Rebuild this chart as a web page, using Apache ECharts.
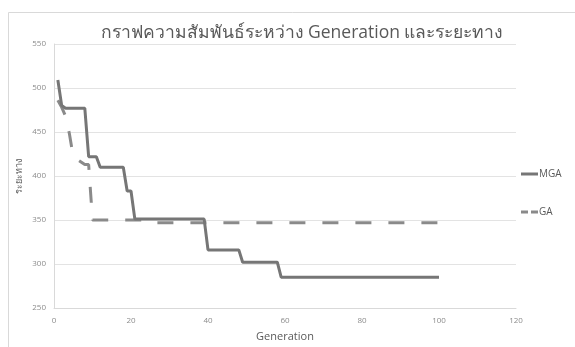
<!DOCTYPE html>
<html>
<head>
<meta charset="utf-8">
<script src="https://cdn.jsdelivr.net/npm/echarts@6/dist/echarts.min.js"></script>
<style>
  html, body { margin: 0; padding: 0; background: #ffffff; }
  #chart { width: 575px; height: 347px; }
</style>
</head>
<body>
<div id="chart"></div>
<script>
// Distance of the best solution per generation (change points only)
const mgaGeneration = [1, 2, 3, 8, 9, 11, 12, 18, 19, 20, 21, 39, 40, 48, 49, 58, 59, 100];
const mgaDistance   = [509, 480, 477, 477, 422, 422, 410, 410, 383, 383, 351, 351, 316, 316, 302, 302, 285, 285];

const gaGeneration = [1, 2, 3, 4, 5, 8, 9, 10, 25, 26, 100];
const gaDistance   = [486, 478, 468, 448, 422, 413, 413, 350, 350, 347, 347];

const seriesNames = ['MGA', 'GA'];
const titleText = 'กราฟความสัมพันธ์ระหว่าง Generation และระยะทาง';
const xAxisTitle = 'Generation';
const yAxisTitle = 'ระยะทาง';

const pairs = (xs, ys) => xs.map((x, i) => [x, ys[i]]);

const FONT = '"Open Sans", "Noto Sans", sans-serif';
const MGA_COLOR = '#767676';
const GA_COLOR = '#8a8a8a';
const chart = echarts.init(document.getElementById('chart'), null, { renderer: 'canvas' });

chart.setOption({
  animation: false,
  backgroundColor: '#ffffff',
  textStyle: { fontFamily: FONT },
  graphic: [{
    type: 'rect',
    left: 6, top: 10,
    shape: { width: 620, height: 400 },
    style: { fill: 'none', stroke: '#d9d9d9', lineWidth: 1 },
    silent: true
  }],
  title: {
    text: titleText,
    left: 297, top: 19, textAlign: 'center',
    textStyle: { fontFamily: FONT, fontSize: 17.5, fontWeight: 'normal', color: '#595959' }
  },
  grid: { left: 54, right: 59, top: 44, bottom: 38 },
  legend: {
    orient: 'vertical',
    left: 516, top: 164,
    itemWidth: 17, itemHeight: 3,
    itemGap: 28,
    textStyle: { fontFamily: FONT, fontSize: 10, color: '#595959', padding: [0, 0, 0, -4] },
    data: [
      { name: 'MGA', icon: 'rect', itemStyle: { color: MGA_COLOR } },
      { name: 'GA', icon: 'path://M0,0H7V3H0Z M10,0H17V3H10Z', itemStyle: { color: GA_COLOR } }
    ]
  },
  xAxis: {
    type: 'value', min: 0, max: 120, interval: 20,
    name: xAxisTitle, nameLocation: 'middle', nameGap: 23,
    nameMoveOverlap: false,
    nameTextStyle: { fontFamily: FONT, fontSize: 11, color: '#595959' },
    axisLine: { show: true, lineStyle: { color: '#d9d9d9' } },
    axisTick: { show: false },
    axisLabel: { fontFamily: FONT, fontSize: 8, color: '#8c8c8c', margin: 9 },
    splitLine: { show: false }
  },
  yAxis: {
    type: 'value', min: 250, max: 550, interval: 50,
    name: yAxisTitle, nameLocation: 'middle', nameGap: 30, nameRotate: 90,
    nameMoveOverlap: false,
    nameTextStyle: { fontFamily: FONT, fontSize: 9, color: '#595959' },
    axisLine: { show: true, lineStyle: { color: '#d9d9d9' } },
    axisTick: { show: false },
    axisLabel: { fontFamily: FONT, fontSize: 8, color: '#8c8c8c', margin: 8 },
    splitLine: { show: true, lineStyle: { color: '#e3e3e3', width: 1 } }
  },
  series: [
    {
      name: seriesNames[0], type: 'line',
      data: pairs(mgaGeneration, mgaDistance),
      symbol: 'none', z: 3,
      lineStyle: { color: MGA_COLOR, width: 3 },
      itemStyle: { color: MGA_COLOR }
    },
    {
      name: seriesNames[1], type: 'line',
      data: pairs(gaGeneration, gaDistance),
      symbol: 'none', z: 2,
      lineStyle: { color: GA_COLOR, width: 3, type: [16, 17] },
      itemStyle: { color: GA_COLOR }
    }
  ]
});
</script>
</body>
</html>
